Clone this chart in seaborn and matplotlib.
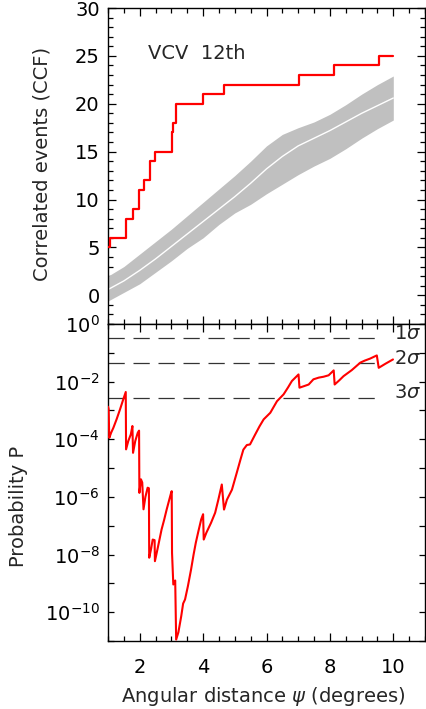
import numpy as np
import pandas as pd
import matplotlib
matplotlib.use("Agg")
import matplotlib.pyplot as plt
import seaborn as sns
from matplotlib.ticker import MultipleLocator, FixedLocator, FuncFormatter

# ---------------- data ----------------
# observed correlated events (step function)
ccf_x = [1.00, 1.05, 1.57, 1.79, 1.99, 2.13, 2.31, 2.47, 3.02, 3.05, 3.16, 4.01, 4.66, 7.04, 8.14, 9.54, 10.0]
ccf_y = [5, 6, 8, 9, 11, 12, 14, 15, 17, 18, 20, 21, 22, 23, 24, 25, 25]

# isotropic expectation: mean and band
band_x = [1.0, 1.5, 2.0, 2.5, 3.0, 3.5, 4.0, 4.5, 5.0, 5.5, 6.0, 6.5, 7.0, 7.5, 8.0, 8.5, 9.0, 9.5, 10.0]
band_mean = [0.6, 1.5, 2.6, 3.8, 5.1, 6.4, 7.7, 9.0, 10.3, 11.7, 13.2, 14.5, 15.6, 16.4, 17.2, 18.1, 19.0, 19.8, 20.6]
band_hi = [2.0, 3.0, 4.3, 5.6, 6.9, 8.3, 9.7, 11.1, 12.5, 14.0, 15.6, 16.8, 17.5, 18.1, 18.9, 19.9, 21.0, 22.0, 22.9]
band_lo = [-0.6, 0.3, 1.2, 2.4, 3.6, 4.9, 6.0, 7.4, 8.6, 9.5, 10.6, 11.6, 12.6, 13.5, 14.3, 15.3, 16.4, 17.4, 18.3]

# probability curve (x, log10 P)
prob_x = [1.00, 1.02, 1.04, 1.10, 1.17, 1.27, 1.38, 1.48, 1.56, 1.57, 1.64, 1.72, 1.77, 1.79,
          1.86, 1.94, 1.98, 1.99, 2.04, 2.08, 2.12, 2.18, 2.25, 2.29, 2.30, 2.36, 2.41, 2.47,
          2.48, 2.56, 2.69, 2.77, 2.85, 2.92, 2.99, 3.01, 3.02, 3.06, 3.12, 3.15, 3.22, 3.31,
          3.37, 3.43, 3.52, 3.62, 3.70, 3.77, 3.85, 3.94, 4.00, 4.02, 4.10, 4.25, 4.38, 4.48,
          4.59, 4.66, 4.75, 4.91, 5.06, 5.18, 5.27, 5.38, 5.48, 5.64, 5.78, 5.91, 6.12, 6.33,
          6.54, 6.68, 6.80, 7.01, 7.04, 7.20, 7.33, 7.48, 7.65, 7.80, 7.96, 8.12, 8.15, 8.30,
          8.43, 8.69, 8.96, 9.10, 9.27, 9.48, 9.54, 9.75, 9.99]
prob_log = [-2.87, -2.95, -3.95, -3.77, -3.60, -3.31, -2.96, -2.62, -2.36, -4.35, -4.06, -3.83, -3.54, -4.47,
            -4.06, -3.77, -3.70, -5.86, -5.39, -5.50, -6.43, -6.00, -5.68, -5.70, -8.11, -7.80, -7.48, -7.50,
            -8.23, -7.82, -7.13, -6.80, -6.44, -6.15, -5.86, -5.80, -7.94, -9.04, -8.90, -10.95, -10.70, -10.14,
            -9.70, -9.56, -9.10, -8.52, -8.00, -7.59, -7.20, -6.78, -6.60, -7.48, -7.25, -6.90, -6.55, -6.10,
            -5.57, -6.44, -6.10, -5.75, -5.17, -4.70, -4.36, -4.20, -4.18, -3.84, -3.55, -3.31, -3.08, -2.68,
            -2.44, -2.20, -1.98, -1.75, -2.21, -2.15, -2.10, -1.92, -1.86, -1.83, -1.78, -1.61, -2.10, -1.95,
            -1.81, -1.60, -1.34, -1.27, -1.20, -1.09, -1.52, -1.38, -1.23]

sigma_labels = ["1$\\sigma$", "2$\\sigma$", "3$\\sigma$"]
sigma_p = [0.3173, 0.0455, 0.0027]

# ---------------- style ----------------
sns.set_theme(style="ticks")
plt.rcParams['font.family'] = ['DejaVu Sans']
plt.rcParams['mathtext.fontset'] = 'dejavusans'
FS = 14

fig = plt.figure(figsize=(4.27, 7.09), dpi=100)
W, H = 427, 709
ax1 = fig.add_axes([108 / W, 1 - 324 / H, 317 / W, 316 / H])
ax2 = fig.add_axes([108 / W, 1 - 641 / H, 317 / W, 317 / H])

# ---- top panel ----
ax1.fill_between(band_x, band_lo, band_hi, color="#c0c0c0", lw=0, zorder=1)
df_band = pd.DataFrame({"x": band_x, "y": band_mean})
sns.lineplot(data=df_band, x="x", y="y", ax=ax1, color="white", lw=1.0,
             estimator=None, sort=False, zorder=2)
df_ccf = pd.DataFrame({"x": ccf_x, "y": ccf_y})
sns.lineplot(data=df_ccf, x="x", y="y", ax=ax1, color="#ff0000", lw=1.6,
             drawstyle="steps-post", estimator=None, sort=False, zorder=3)
ax1.text(2.25, 25.3, "VCV  12th", fontsize=FS, va="center", ha="left")

ax1.set_xlim(1, 11)
ax1.set_ylim(-3, 30)
ax1.xaxis.set_major_locator(MultipleLocator(2))
ax1.xaxis.set_minor_locator(MultipleLocator(0.5))
ax1.yaxis.set_major_locator(MultipleLocator(5))
ax1.yaxis.set_minor_locator(MultipleLocator(1))
ax1.set_xticklabels([])
ax1.set_xlabel("")
ax1.set_ylabel("Correlated events (CCF)", fontsize=FS)
ax1.yaxis.set_label_coords(-0.177, 0.506)

# ---- bottom panel ----
for p in sigma_p:
    ax2.plot([1, 9.65], [p, p], color="#333333", lw=0.9, dashes=(13, 7), zorder=1)
for lab, p, dy in zip(sigma_labels, sigma_p, [1.45, 1.45, 1.6]):
    ax2.text(10.02, p * dy, lab, fontsize=FS, ha="left", va="center", clip_on=False)

df_p = pd.DataFrame({"x": prob_x, "p": np.power(10.0, prob_log)})
sns.lineplot(data=df_p, x="x", y="p", ax=ax2, color="#ff0000", lw=1.5,
             estimator=None, sort=False, zorder=3)
ax2.set_yscale("log")
ax2.set_xlim(1, 11)
ax2.set_ylim(1e-11, 1)
ax2.xaxis.set_major_locator(MultipleLocator(2))
ax2.xaxis.set_minor_locator(MultipleLocator(0.5))
ax2.yaxis.set_major_locator(FixedLocator([10.0 ** k for k in range(-11, 1)]))
ax2.yaxis.set_minor_locator(FixedLocator([]))


def fmt(v, pos):
    k = int(round(np.log10(v)))
    if k % 2 == 0:
        return "$10^{%d}$" % k
    return ""


ax2.yaxis.set_major_formatter(FuncFormatter(fmt))
ax2.set_xlabel("Angular distance $\\psi$ (degrees)", fontsize=FS)
ax2.set_ylabel("Probability P", fontsize=FS)
ax2.yaxis.set_label_coords(-0.252, 0.426)
ax2.xaxis.set_label_coords(0.49, -0.138)

for ax in (ax1, ax2):
    for s in ax.spines.values():
        s.set_color("black")
        s.set_linewidth(1.0)
    ax.tick_params(which="both", direction="in", top=True, right=True,
                   colors="black", labelsize=FS, pad=6)
    ax.tick_params(which="major", length=6, width=0.9)
    ax.tick_params(which="minor", length=3.5, width=0.9)
ax2.tick_params(axis="y", which="major", length=4.5)
ax2.tick_params(axis="x", which="both", pad=12)

fig.savefig("out.png", dpi=100)
